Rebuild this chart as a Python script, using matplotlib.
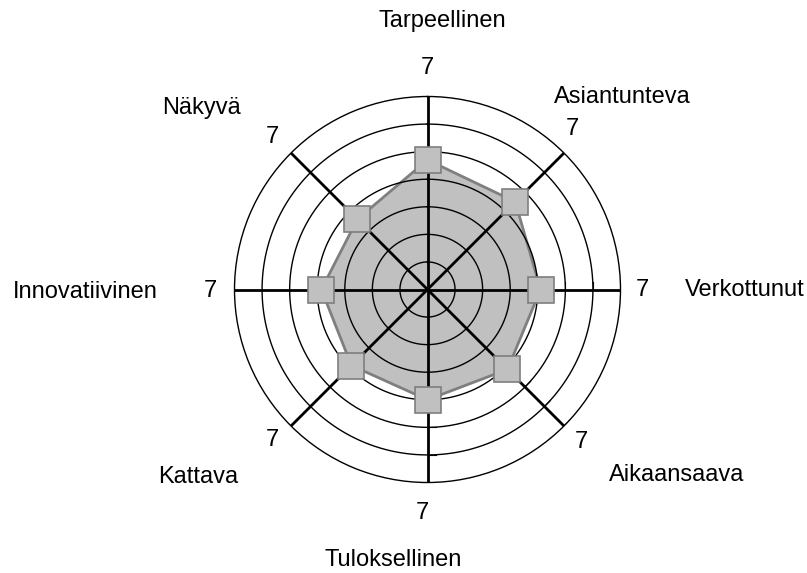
import numpy as np
import matplotlib
matplotlib.use("Agg")
from matplotlib import pyplot as plt

# axis names, clockwise from the top
labels = ["Tarpeellinen", "Asiantunteva", "Verkottunut", "Aikaansaava",
          "Tuloksellinen", "Kattava", "Innovatiivinen", "Näkyvä"]
values = [4.7, 4.5, 4.1, 4.1, 4.0, 3.9, 3.85, 3.6]
rings = [1, 2, 3, 4, 5, 6, 7]
max_label = "7"

# label placement in pixels (x, y from top)
name_pos = [(442, 21), (622, 97), (745, 290), (677, 475),
            (393, 560), (198, 477), (85, 292), (201, 108)]
seven_pos = [(427, 68), (572, 129), (642, 290), (581, 442),
             (422, 513), (272, 440), (210, 291), (272, 137)]

W, H = 807, 573
fig = plt.figure(figsize=(W / 100, H / 100), dpi=100)
cx, cy, rad = 427.5, 289.5, 193
ax = fig.add_axes([(cx - rad) / W, 1 - (cy + rad) / H, 2 * rad / W, 2 * rad / H],
                  projection="polar")
ax.set_theta_offset(np.pi / 2)
ax.set_theta_direction(-1)
ax.set_ylim(0, rings[-1])
ax.set_xticks([])
ax.set_yticks([])
ax.grid(False)
ax.spines["polar"].set_linewidth(1.0)
ax.spines["polar"].set_color("black")

n = len(labels)
ang = np.arange(n) * 2 * np.pi / n

# filled area
a_closed = np.append(ang, ang[0])
v_closed = np.append(values, values[0])
ax.fill(a_closed, v_closed, color="#c0c0c0", zorder=1)
ax.plot(a_closed, v_closed, color="#7f7f7f", lw=2, zorder=2)

# rings
t = np.linspace(0, 2 * np.pi, 400)
for r in rings[:-1]:
    ax.plot(t, np.full_like(t, r), color="black", lw=1.0, zorder=3)

# spokes
for a in ang:
    ax.plot([a, a], [0, rings[-1]], color="black", lw=2, zorder=4)

# little tick marks on some spokes
px_per_unit = rad / rings[-1]
for k in [2, 3, 4]:
    for r in rings[4:]:
        R = r * px_per_unit
        L = 8
        d = np.arctan(L / R)
        ax.plot([ang[k], ang[k] - d], [r, np.hypot(R, L) / px_per_unit],
                color="black", lw=0.8, zorder=4)

# markers
ax.plot(ang, values, ls="none", marker="s", markersize=19,
        mfc="#c0c0c0", mec="#7f7f7f", mew=1.2, zorder=5, clip_on=False)

for name, (x, y) in zip(labels, name_pos):
    fig.text(x / W, 1 - y / H, name, ha="center", va="center",
             fontsize=17, family="Liberation Sans")
for (x, y) in seven_pos:
    fig.text(x / W, 1 - y / H, max_label, ha="center", va="center",
             fontsize=17, family="Liberation Sans")

fig.savefig("out.png", dpi=100)
